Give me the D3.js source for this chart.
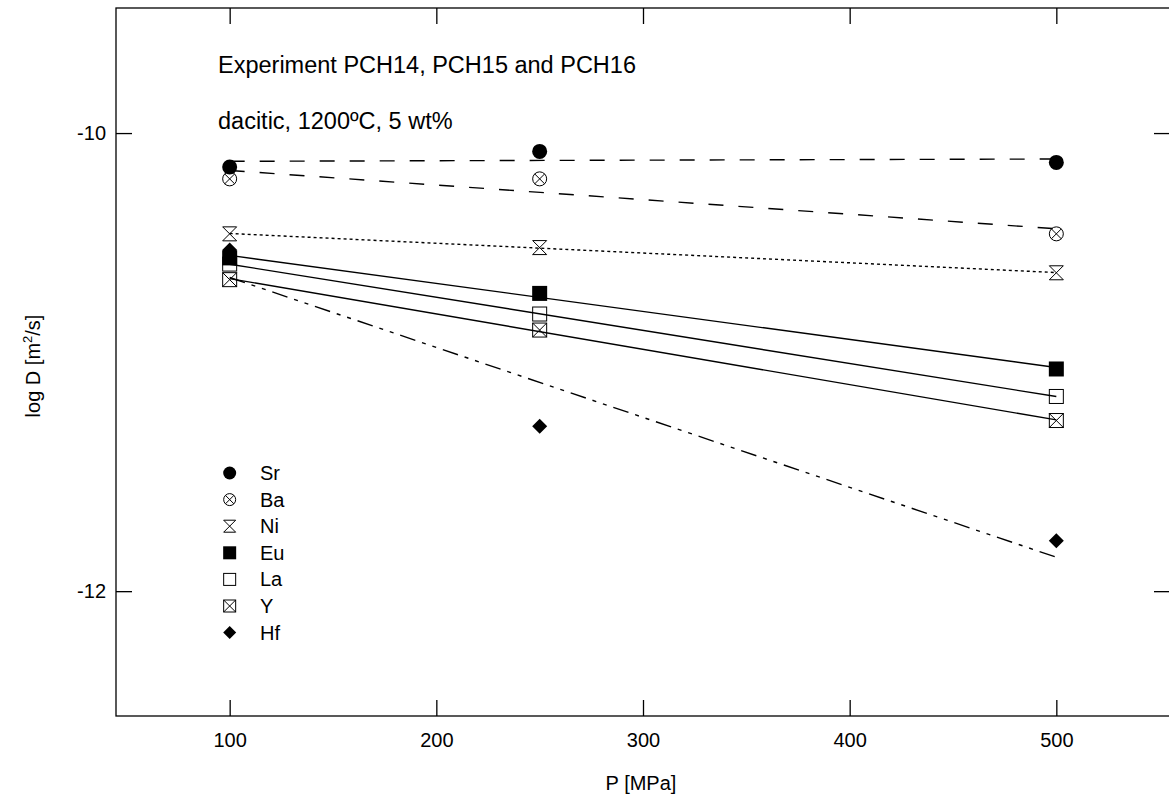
<!DOCTYPE html>
<html><head><meta charset="utf-8">
<script src="https://cdn.jsdelivr.net/npm/d3@7"></script>
<style>
html,body{margin:0;padding:0;background:#fff;}
text{font-family:"Liberation Sans",Arial,Helvetica,sans-serif;fill:#000;}
</style></head>
<body><svg id="chart" width="1169" height="801"></svg>
<script>
// ---- data ----
const pressures = [100, 250, 500];
const elements = ["Sr", "Ba", "Ni", "Eu", "La", "Y", "Hf"];
const Sr = [-10.148, -10.08, -10.128];
const Ba = [-10.20, -10.20, -10.44];
const Ni = [-10.44, -10.50, -10.61];
const Eu = [-10.545, -10.70, -11.03];
const La = [-10.572, -10.79, -11.15];
const Yv = [-10.64, -10.86, -11.255];
const Hf = [-10.511, -11.28, -11.78];
const xTicks = [100, 200, 300, 400, 500];
const yTicks = [-10, -12];
const titleLines = ["Experiment PCH14, PCH15 and PCH16", "dacitic, 1200ºC, 5 wt%"];

const seriesValues = {Sr: Sr, Ba: Ba, Ni: Ni, Eu: Eu, La: La, Y: Yv, Hf: Hf};
const lineDash = {Sr: "15,15", Ba: "15,15", Ni: "3,3", Eu: null, La: null, Y: null, Hf: "16,7,4,7,4,7"};

const svg = d3.select("#chart");
const L = 116, R = 1170, T = 8, B = 716;
const x = d3.scaleLinear().domain([45, 555]).range([L, R]);
const y = d3.scaleLinear().domain([-12.545, -9.454]).range([B, T]);

// frame
svg.append("rect").attr("x", L).attr("y", T).attr("width", R - L).attr("height", B - T)
  .attr("fill", "none").attr("stroke", "#000").attr("stroke-width", 1.3);

// axes (ticks inward)
const tl = 16;
const gxb = svg.append("g").attr("transform", `translate(0,${B})`)
  .call(d3.axisBottom(x).tickValues(xTicks).tickSize(-tl).tickPadding(16.5).tickFormat(d3.format("d")));
const gxt = svg.append("g").attr("transform", `translate(0,${T})`)
  .call(d3.axisTop(x).tickValues(xTicks).tickSize(-tl).tickFormat(""));
const gyl = svg.append("g").attr("transform", `translate(${L},0)`)
  .call(d3.axisLeft(y).tickValues(yTicks).tickSize(-tl).tickPadding(10).tickFormat(d => d3.format("d")(d).replace("−", "-")));
const gyr = svg.append("g").attr("transform", `translate(${R},0)`)
  .call(d3.axisRight(y).tickValues(yTicks).tickSize(-tl).tickFormat(""));
[gxb, gxt, gyl, gyr].forEach(g => {
  g.select(".domain").remove();
  g.selectAll("line").attr("stroke", "#000").attr("stroke-width", 1.3);
  g.selectAll("text").attr("font-size", 20).attr("font-family", "Liberation Sans, Arial, sans-serif").attr("fill", "#000");
});

// axis titles
svg.append("text").attr("x", 641).attr("y", 790).attr("text-anchor", "middle").attr("font-size", 20).text("P [MPa]");
const yl = svg.append("text").attr("transform", "translate(40,366) rotate(-90)").attr("text-anchor", "middle").attr("font-size", 20);
yl.append("tspan").text("log D [m");
yl.append("tspan").attr("font-size", 13).attr("dy", -8).text("2");
yl.append("tspan").attr("dy", 8).text("/s]");

// annotation
svg.append("text").attr("x", 218).attr("y", 73).attr("font-size", 23.5).text(titleLines[0]);
svg.append("text").attr("x", 218).attr("y", 129).attr("font-size", 23.5).text(titleLines[1]);

// markers
function drawMarker(g, name, cx, cy, s) {
  const h = s / 2;
  const sw = 1;
  if (name === "Sr") {
    g.append("circle").attr("cx", cx).attr("cy", cy).attr("r", h).attr("fill", "#000");
  } else if (name === "Ba") {
    g.append("circle").attr("cx", cx).attr("cy", cy).attr("r", h - 0.5).attr("fill", "#fff").attr("stroke", "#000").attr("stroke-width", sw);
    const k = (h - 0.5) * 0.707;
    g.append("path").attr("d", `M${cx - k},${cy - k}L${cx + k},${cy + k}M${cx + k},${cy - k}L${cx - k},${cy + k}`).attr("stroke", "#000").attr("stroke-width", sw).attr("fill", "none");
  } else if (name === "Ni") {
    const k = h - 0.5;
    g.append("path").attr("d", `M${cx - k},${cy - k}H${cx + k}L${cx - k},${cy + k}H${cx + k}Z`).attr("fill", "#fff").attr("stroke", "#000").attr("stroke-width", sw);
  } else if (name === "Eu") {
    g.append("rect").attr("x", cx - h).attr("y", cy - h).attr("width", s).attr("height", s).attr("fill", "#000");
  } else if (name === "La") {
    const k = h - 0.5;
    g.append("rect").attr("x", cx - k).attr("y", cy - k).attr("width", 2 * k).attr("height", 2 * k).attr("fill", "#fff").attr("stroke", "#000").attr("stroke-width", sw);
  } else if (name === "Y") {
    const k = h - 0.5;
    g.append("rect").attr("x", cx - k).attr("y", cy - k).attr("width", 2 * k).attr("height", 2 * k).attr("fill", "#fff").attr("stroke", "#000").attr("stroke-width", sw);
    g.append("path").attr("d", `M${cx - k},${cy - k}L${cx + k},${cy + k}M${cx + k},${cy - k}L${cx - k},${cy + k}`).attr("stroke", "#000").attr("stroke-width", sw).attr("fill", "none");
  } else if (name === "Hf") {
    g.append("path").attr("d", `M${cx},${cy - h}L${cx + h},${cy}L${cx},${cy + h}L${cx - h},${cy}Z`).attr("fill", "#000");
  }
}

const gm = svg.append("g");
elements.slice().reverse().forEach(name => {
  seriesValues[name].forEach((v, i) => drawMarker(gm, name, x(pressures[i]), y(v), 15));
});

// regression lines
function fit(xs, ys) {
  const mx = d3.mean(xs), my = d3.mean(ys);
  let sxy = 0, sxx = 0;
  xs.forEach((xi, i) => { sxy += (xi - mx) * (ys[i] - my); sxx += (xi - mx) * (xi - mx); });
  const b = sxy / sxx;
  return p => my + b * (p - mx);
}
const line = d3.line().x(d => x(d[0])).y(d => y(d[1]));
const x0 = d3.min(pressures), x1 = d3.max(pressures);
elements.forEach(name => {
  const f = fit(pressures, seriesValues[name]);
  svg.append("path").attr("d", line([[x0, f(x0)], [x1, f(x1)]]))
    .attr("fill", "none").attr("stroke", "#000").attr("stroke-width", 1.4)
    .attr("stroke-dasharray", lineDash[name]);
});

// legend
const lg = svg.append("g");
elements.forEach((name, i) => {
  const cy = 473 + i * 26.6;
  drawMarker(lg, name, x(100), cy, 13);
  lg.append("text").attr("x", 260).attr("y", cy + 7).attr("font-size", 20).text(name);
});
</script></body></html>
